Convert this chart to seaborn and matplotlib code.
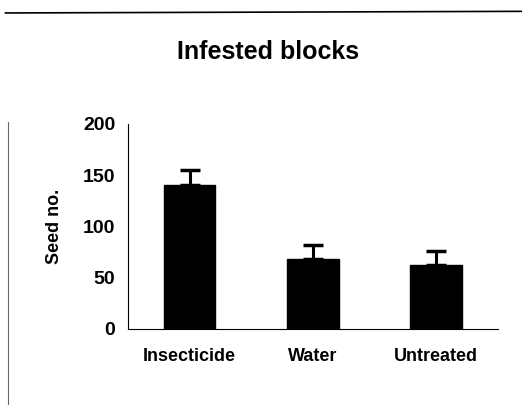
import numpy as np
import pandas as pd
import matplotlib
matplotlib.use("Agg")
import matplotlib.pyplot as plt
import seaborn as sns
from matplotlib.lines import Line2D

# data
treatments = ["Insecticide", "Water", "Untreated"]
seed_no = [140, 68, 62]
seed_se = [15, 14, 14]

df = pd.DataFrame({"treatment": treatments, "seed": seed_no})

sns.set_style("white")
plt.rcParams["font.family"] = ["Liberation Sans", "DejaVu Sans"]
plt.rcParams["font.weight"] = "bold"
plt.rcParams["text.color"] = "black"
plt.rcParams["axes.labelcolor"] = "black"
plt.rcParams["xtick.color"] = "black"
plt.rcParams["ytick.color"] = "black"

fig = plt.figure(figsize=(5.22, 4.05), dpi=100)
ax = fig.add_axes([0.245, 0.188, 0.709, 0.506])

sns.barplot(data=df, x="treatment", y="seed", color="black", width=0.42,
            saturation=1, edgecolor="black", ax=ax)
ax.errorbar(range(len(treatments)), seed_no, yerr=[[0] * 3, seed_se],
            fmt="none", ecolor="black", elinewidth=2.2, capsize=7, capthick=2.5)

ax.set_ylim(0, 200)
ax.set_xlim(-0.5, 2.5)
ax.set_yticks([0, 50, 100, 150, 200])
ax.set_xticks([-0.5, 0.5, 1.5, 2.5], minor=False)
ax.set_xticks([0, 1, 2], minor=True)
ax.set_xticklabels([])
ax.set_xticklabels(treatments, minor=True, fontsize=13, fontweight="bold")
ax.tick_params(axis="x", which="minor", length=0, pad=14)
ax.tick_params(axis="x", which="major", length=3, width=0.8, direction="out")
ax.tick_params(axis="y", length=3, width=0.8, direction="out", labelsize=14, pad=6)
for t in ax.get_yticklabels():
    t.set_fontweight("bold")

ax.set_xlabel("")
ax.set_ylabel("Seed no.", fontsize=13, fontweight="bold", labelpad=14)
for s in ["top", "right"]:
    ax.spines[s].set_visible(False)
for s in ["left", "bottom"]:
    ax.spines[s].set_color("black")
    ax.spines[s].set_linewidth(0.8)

fig.text(0.514, 0.872, "Infested blocks", ha="center", va="center",
         fontsize=18, fontweight="bold")

# frame lines of the scanned panel
fig.add_artist(Line2D([0.01, 1.0], [0.968, 0.972], color="black", lw=1.2))
fig.add_artist(Line2D([0.015, 0.015], [0.0, 0.70], color="black", lw=0.8, alpha=0.6))

fig.savefig("out.png", dpi=100)
